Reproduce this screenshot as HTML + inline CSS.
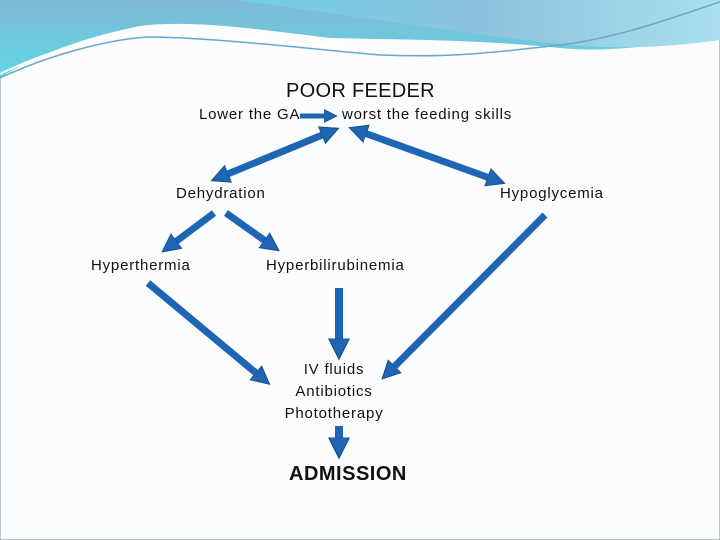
<!DOCTYPE html>
<html><head><meta charset="utf-8"><style>
html,body{margin:0;padding:0}
body{width:720px;height:540px;position:relative;overflow:hidden;background:#fbfcfd;font-family:"Liberation Sans",sans-serif}
.t{position:absolute;color:#111;font-size:15px;white-space:nowrap;letter-spacing:0.8px}
</style></head><body>
<svg width="720" height="540" style="position:absolute;left:0;top:0">
<defs>
<linearGradient id="g1" x1="0" y1="0" x2="1" y2="0"><stop offset="0" stop-color="#6fd0e4"/><stop offset="0.5" stop-color="#8cc3dc"/><stop offset="1" stop-color="#a9dfee"/></linearGradient>
<linearGradient id="g2" x1="0" y1="0" x2="0" y2="1"><stop offset="0" stop-color="#7fb9d4"/><stop offset="1" stop-color="#5fd6e6"/></linearGradient>
<marker id="h" markerWidth="3" markerHeight="3" refX="1.2" refY="1.5" orient="auto" markerUnits="strokeWidth"><path d="M0,0.2 L2.6,1.5 L0,2.8 Z" fill="#1e66b3" stroke="#174f8c" stroke-width="0.15"/></marker>
<marker id="hs" markerWidth="3" markerHeight="3" refX="1.6" refY="1.5" orient="auto-start-reverse" markerUnits="strokeWidth"><path d="M0,0.2 L2.6,1.5 L0,2.8 Z" fill="#1e66b3" stroke="#174f8c" stroke-width="0.15"/></marker>
</defs>
<rect x="0" y="0" width="720" height="540" fill="#fbfcfd" stroke="#7a8fa0" stroke-width="1"/>
<path d="M0,0 H720 V35 C650,48 600,52 560,48 C480,40 420,40 330,38 C250,28 190,20 140,26 C80,38 30,58 0,78 Z" fill="url(#g2)"/>
<path d="M235,0 H720 V40 C650,50 600,48 560,44 C480,36 350,15 235,0 Z" fill="url(#g1)"/>
<path d="M0,78 C60,50 120,38 150,37 C220,38 300,48 380,55 C450,58 500,52 560,45 C620,38 680,15 720,2" fill="none" stroke="#6aa8c8" stroke-width="1.5"/>
<path d="M0,74 C60,45 120,32 160,33 C230,35 300,45 380,52" fill="none" stroke="#fff" stroke-width="2"/>
<g stroke="#1e66b3" fill="none">
<line x1="300" y1="116" x2="330" y2="116" stroke-width="5" marker-end="url(#h)"/>
<line x1="218" y1="178" x2="332" y2="131" stroke-width="7" marker-start="url(#hs)" marker-end="url(#hs)"/>
<line x1="356" y1="130" x2="498" y2="181" stroke-width="7" marker-start="url(#hs)" marker-end="url(#hs)"/>
<line x1="214" y1="213" x2="170" y2="246" stroke-width="7" marker-end="url(#h)"/>
<line x1="226" y1="213" x2="271" y2="245" stroke-width="7" marker-end="url(#h)"/>
<line x1="545" y1="215" x2="389" y2="372" stroke-width="7" marker-end="url(#h)"/>
<line x1="148" y1="283" x2="262" y2="378" stroke-width="7" marker-end="url(#h)"/>
<line x1="339" y1="288" x2="339" y2="348" stroke-width="8" marker-end="url(#h)"/>
<line x1="339" y1="426" x2="339" y2="447" stroke-width="8" marker-end="url(#h)"/>
</g>
</svg>
<div class="t" style="left:286px;top:80px;font-size:20px;letter-spacing:0.3px">POOR FEEDER</div>
<div class="t" style="left:199px;top:106px">Lower the GA</div>
<div class="t" style="left:342px;top:106px">worst the feeding skills</div>
<div class="t" style="left:176px;top:185px">Dehydration</div>
<div class="t" style="left:500px;top:185px">Hypoglycemia</div>
<div class="t" style="left:91px;top:257px">Hyperthermia</div>
<div class="t" style="left:266px;top:257px">Hyperbilirubinemia</div>
<div class="t" style="left:276px;top:359px;width:116px;text-align:center;line-height:22px">IV fluids<br>Antibiotics<br>Phototherapy</div>
<div class="t" style="left:289px;top:463px;font-size:20px;font-weight:bold;letter-spacing:0.5px">ADMISSION</div>
</body></html>
